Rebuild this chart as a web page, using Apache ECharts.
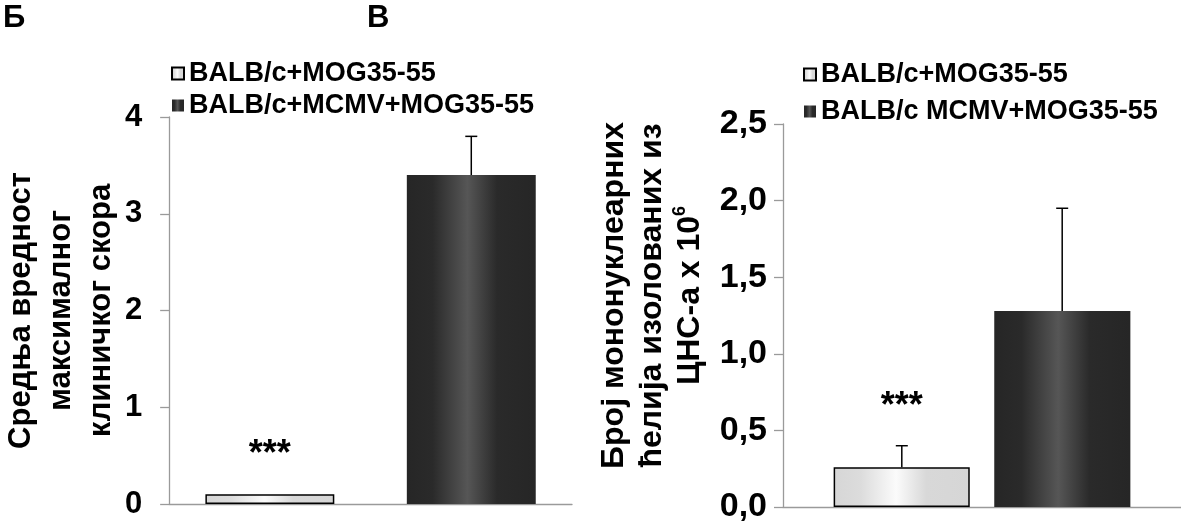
<!DOCTYPE html>
<html style="height: 100%">
<head>
  <meta charset="UTF-8">
  <title>MOG35-55 / MCMV</title>
  <script src="https://cdnjs.cloudflare.com/ajax/libs/echarts/6.0.0/echarts.min.js"></script>
  <style>
    body {
      margin: 0;
      height: 100%;
      background: #fff;
    }
    #main {
      width: 1181px;
      height: 524px;
    }
  </style>
</head>
<body>
  <div id="main"></div>

  <script>
    // panel Б: mean maximal clinical score
    const leftNames = ['BALB/c+MOG35-55', 'BALB/c+MCMV+MOG35-55'];
    const leftMeans = [0.1, 3.4];
    const leftErrors = [0, 0.4];
    const leftStars = ['***', ''];

    // panel В: mononuclear cells isolated from CNS (x 10^6)
    const rightNames = ['BALB/c+MOG35-55', 'BALB/c MCMV+MOG35-55'];
    const rightMeans = [0.26, 1.28];
    const rightErrors = [0.14, 0.67];
    const rightStars = ['***', ''];

    const FONT = '"Liberation Sans", Arial, sans-serif';

    const lightFill = new echarts.graphic.LinearGradient(0, 0, 1, 0, [
      { offset: 0, color: '#d6d6d6' },
      { offset: 0.2, color: '#dcdcdc' },
      { offset: 0.46, color: '#fbfbfb' },
      { offset: 0.68, color: '#d8d8d8' },
      { offset: 1, color: '#d6d6d6' }
    ]);
    const darkFill = new echarts.graphic.LinearGradient(0, 0, 1, 0, [
      { offset: 0, color: '#262626' },
      { offset: 0.2, color: '#2a2a2a' },
      { offset: 0.47, color: '#565656' },
      { offset: 0.7, color: '#2a2a2a' },
      { offset: 1, color: '#262626' }
    ]);
    const fills = [lightFill, darkFill];
    const borders = [{ borderColor: '#000', borderWidth: 1.5 }, { borderColor: '#262626', borderWidth: 0 }];

    const axisGray = '#9a9a9a';

    // error bar (+ significance stars) drawn over a bar
    function errorBar(offsetFrac, stars) {
      return function (params, api) {
        const i = api.value(3);
        const mean = api.value(1);
        const err = api.value(2);
        const base = api.coord([api.value(0), mean]);
        const top = api.coord([api.value(0), mean + err]);
        const band = api.size([1, 0])[0];
        const x = base[0] + (offsetFrac ? offsetFrac[i] * band : 0);
        const children = [];
        if (err > 0) {
          children.push({
            type: 'line',
            shape: { x1: x, y1: base[1], x2: x, y2: top[1] },
            style: { stroke: '#000', lineWidth: 1.5 }
          });
          children.push({
            type: 'line',
            shape: { x1: x - 6, y1: top[1], x2: x + 6, y2: top[1] },
            style: { stroke: '#000', lineWidth: 1.5 }
          });
        }
        if (stars[i]) {
          children.push({
            type: 'text',
            style: {
              x: x, y: top[1] - 39, text: stars[i],
              align: 'center', verticalAlign: 'middle',
              font: 'bold 36px ' + FONT, fill: '#000'
            }
          });
        }
        return { type: 'group', children: children };
      };
    }

    const chart = echarts.init(document.getElementById('main'));

    const yLabel = { color: '#000', fontWeight: 'bold', fontFamily: FONT };
    const legendText = { fontSize: 27, fontWeight: 'bold', fontFamily: FONT, color: '#000' };
    const panelText = { fontSize: 31, fontWeight: 'bold', fontFamily: FONT, color: '#000' };

    chart.setOption({
      animation: false,
      title: [
        { text: 'Б', left: -2, top: -2, textStyle: panelText },
        { text: 'В', left: 362, top: -2, textStyle: panelText }
      ],
      legend: [
        {
          data: leftNames, orient: 'vertical', left: 166, top: 55, itemGap: 5,
          itemWidth: 12, itemHeight: 12, icon: 'rect',
          textStyle: legendText
        },
        {
          data: rightNames, orient: 'vertical', left: 798, top: 56, itemGap: 10,
          itemWidth: 12, itemHeight: 12, icon: 'rect',
          textStyle: legendText
        }
      ],
      grid: [
        { left: 162, top: 117, width: 410, bottom: 20 },
        { left: 783, top: 124, width: 404, bottom: 17 }
      ],
      xAxis: [
        {
          type: 'category', gridIndex: 0, data: leftNames,
          axisLine: { lineStyle: { color: axisGray, width: 1.3 } },
          axisTick: { length: 8, lineStyle: { color: axisGray, width: 1.3 } },
          axisLabel: { show: false }
        },
        {
          type: 'category', gridIndex: 1, data: ['В'],
          axisLine: { lineStyle: { color: axisGray, width: 1.3 } },
          axisTick: { length: 8, lineStyle: { color: axisGray, width: 1.3 } },
          axisLabel: { show: false }
        }
      ],
      yAxis: [
        {
          type: 'value', gridIndex: 0, min: 0, max: 4, interval: 1,
          name: 'Средња вредност\nмаксималног\nклиничког скора',
          nameLocation: 'middle', nameGap: 43,
          nameTextStyle: { fontSize: 31, fontWeight: 'bold', fontFamily: FONT, color: '#000', lineHeight: 40 },
          axisLine: { show: true, lineStyle: { color: axisGray, width: 1.3 } },
          axisTick: { show: true, length: 9, lineStyle: { color: axisGray, width: 1.3 } },
          splitLine: { show: false },
          axisLabel: Object.assign({ fontSize: 31, margin: 27 }, yLabel)
        },
        {
          type: 'value', gridIndex: 1, min: 0, max: 2.5, interval: 0.5,
          name: 'Број мононуклеарних\nћелија изолованих из\nЦНС-а x 10{sup|6}',
          nameLocation: 'middle', nameGap: 74,
          nameTextStyle: {
            fontSize: 32, fontWeight: 'bold', fontFamily: FONT, color: '#000', lineHeight: 38,
            padding: [0, 0, 0, 40],
            rich: { sup: { fontSize: 18, fontWeight: 'bold', fontFamily: FONT, color: '#000', verticalAlign: 'top', lineHeight: 38, padding: [0, 0, 16, 0] } }
          },
          axisLine: { show: true, lineStyle: { color: axisGray, width: 1.3 } },
          axisTick: { show: true, length: 9, lineStyle: { color: axisGray, width: 1.3 } },
          splitLine: { show: false },
          axisLabel: Object.assign({
            fontSize: 34, margin: 16,
            formatter: v => v.toFixed(1).replace('.', ',')
          }, yLabel)
        }
      ],
      series: [
        {
          name: leftNames[0], type: 'bar', xAxisIndex: 0, yAxisIndex: 0,
          barWidth: '64%', barGap: '-100%',
          itemStyle: Object.assign({ color: fills[0] }, borders[0]),
          data: [leftMeans[0], '-']
        },
        {
          name: leftNames[1], type: 'bar', xAxisIndex: 0, yAxisIndex: 0,
          barWidth: '64%', barGap: '-100%',
          itemStyle: Object.assign({ color: fills[1] }, borders[1]),
          data: ['-', leftMeans[1]]
        },
        {
          type: 'custom', xAxisIndex: 0, yAxisIndex: 0, z: 5,
          renderItem: errorBar(null, leftStars),
          data: leftMeans.map((m, i) => [i, m, leftErrors[i], i])
        },
        {
          type: 'custom', xAxisIndex: 1, yAxisIndex: 1, z: 5,
          renderItem: errorBar([-0.2015, 0.2015], rightStars),
          data: rightMeans.map((m, i) => [0, m, rightErrors[i], i])
        },
        {
          name: rightNames[0], type: 'bar', xAxisIndex: 1, yAxisIndex: 1,
          barWidth: '34.2%', barGap: '18%',
          itemStyle: Object.assign({ color: fills[0] }, borders[0]),
          data: [rightMeans[0]]
        },
        {
          name: rightNames[1], type: 'bar', xAxisIndex: 1, yAxisIndex: 1,
          barWidth: '34.2%', barGap: '18%',
          itemStyle: Object.assign({ color: fills[1] }, borders[1]),
          data: [rightMeans[1]]
        }
      ]
    });

    window.addEventListener('resize', () => {
      chart.resize();
    });
  </script>
</body>
</html>
